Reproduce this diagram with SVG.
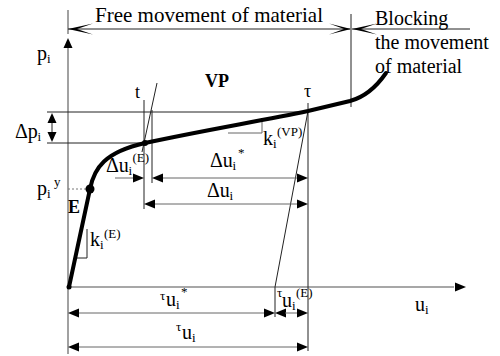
<svg xmlns="http://www.w3.org/2000/svg" width="500" height="356" viewBox="0 0 500 356">
<style>
text{font-family:"Liberation Serif","Times New Roman",serif;fill:#000}
.t20{font-size:20px}
.t18{font-size:18px}
.s{font-size:13px}
.b{font-weight:bold}
.ax{stroke:#8a8a8a;stroke-width:1.6;fill:none}
.ln{stroke:#222;stroke-width:1;fill:none}
.gl{stroke:#666;stroke-width:1;fill:none}
.cv{stroke:#000;stroke-width:4;fill:none;stroke-linecap:round}
.ah{fill:#000}
</style>
<defs>
<path id="aR" d="M0,0 L-11,-4.5 L-11,4.5 Z"/>
<path id="aL" d="M0,0 L11,-4.5 L11,4.5 Z"/>
<path id="aU" d="M0,0 L-4.5,10 L4.5,10 Z"/>
<path id="aD" d="M0,0 L-4.5,-10 L4.5,-10 Z"/>
<path id="dL" d="M0,0 L25,-5.5 L9,0 L25,5.5 Z"/>
<path id="dR" d="M0,0 L-22,-5.5 L-7,0 L-22,5.5 Z"/>
</defs>
<g id="axes">
<line class="ax" x1="68" y1="10" x2="68" y2="34"/>
<line class="ax" x1="68" y1="48" x2="68" y2="354"/>
<use href="#aU" x="68" y="38" class="ah"/>
<line class="ax" x1="68" y1="287" x2="454" y2="287"/>
<use href="#aR" x="466" y="287" class="ah"/>
</g>
<g id="connectors">
<line class="ln" x1="68" y1="29" x2="350" y2="29"/>
<use href="#dL" x="68" y="29" class="ah"/>
<use href="#dR" x="351" y="29" class="ah"/>
<line class="ln" x1="352" y1="29" x2="470" y2="29"/>
<use href="#dL" x="352" y="29" class="ah"/>
<line class="ln" x1="351" y1="14" x2="351" y2="107"/>
<line class="ln" x1="47" y1="112" x2="302" y2="112"/>
<line class="ln" x1="47" y1="143" x2="145" y2="143"/>
<line class="ln" x1="52" y1="118" x2="52" y2="137"/>
<use href="#aU" x="52" y="113" class="ah"/>
<use href="#aD" x="52" y="142" class="ah"/>
<line class="ln" x1="144" y1="100" x2="144" y2="209"/>
<line class="ln" x1="152" y1="110" x2="152" y2="183"/>
<line class="ln" x1="157" y1="83" x2="142" y2="152"/>
<line class="ln" x1="308" y1="103" x2="308" y2="351"/>
<line class="ln" x1="308" y1="111" x2="275" y2="287"/>
<line class="ln" x1="275" y1="287" x2="275" y2="317"/>
<line class="gl" x1="115" y1="178" x2="134" y2="178"/>
<use href="#aR" x="144" y="178" class="ah"/>
<line class="gl" x1="162" y1="178" x2="298" y2="178"/>
<use href="#aL" x="152" y="178" class="ah"/>
<use href="#aR" x="308" y="178" class="ah"/>
<line class="gl" x1="154" y1="204" x2="298" y2="204"/>
<use href="#aL" x="144" y="204" class="ah"/>
<use href="#aR" x="308" y="204" class="ah"/>
<line class="gl" x1="78" y1="313" x2="265" y2="313"/>
<use href="#aL" x="68" y="313" class="ah"/>
<use href="#aR" x="275" y="313" class="ah"/>
<use href="#aL" x="275" y="313" class="ah"/>
<line class="gl" x1="285" y1="313" x2="298" y2="313"/>
<use href="#aR" x="308" y="313" class="ah"/>
<line class="gl" x1="78" y1="347" x2="298" y2="347"/>
<use href="#aL" x="68" y="347" class="ah"/>
<use href="#aR" x="308" y="347" class="ah"/>
<polyline class="gl" points="228,133 262,133 262,121"/>
<polyline class="ln" points="87,229 87,258 75,258"/>
<line x1="68" y1="189" x2="90" y2="189" stroke="#777" stroke-width="1" stroke-dasharray="2,2"/>
</g>
<g id="curve">
<path class="cv" d="M69,287 L90,189 C94,168 105,152 145,143 C200,131 260,121 308,111 L350,101 C365,97 377,86 386,73"/>
<circle cx="69" cy="287" r="2.5"/>
<circle cx="90" cy="189" r="4.5"/>
<circle cx="145" cy="143" r="3"/>
</g>
<g id="labels">
<text class="t20" x="95" y="22" font-size="21" style="font-size:21px">Free movement of material</text>
<text class="t20" x="375" y="25">Blocking</text>
<text class="t20" x="375" y="49">the movement</text>
<text class="t20" x="375" y="73">of material</text>
<text class="t20" x="37" y="60">p</text><text class="s" x="47" y="63">i</text>
<text class="t18 b" x="205" y="87">VP</text>
<text class="t18" x="135" y="98">t</text>
<text class="t18" x="304" y="97">τ</text>
<text class="t20" x="15" y="138">Δp</text><text class="s" x="37.5" y="141">i</text>
<text class="t20" x="37" y="195">p</text><text class="s" x="47" y="198">i</text><text class="s" x="54" y="186">y</text>
<text class="t18 b" x="68" y="213">E</text>
<text class="t20" x="90" y="246">k</text><text class="s" x="100" y="249">i</text><text class="s" x="104" y="238">(E)</text>
<text class="t20" x="106" y="172">Δu</text><text class="s" x="128.5" y="175">i</text><text class="s" x="132.5" y="162">(E)</text>
<text class="t20" x="210" y="167">Δu</text><text class="s" x="232.5" y="170">i</text><text class="s" x="238" y="157">*</text>
<text class="t20" x="207" y="197">Δu</text><text class="s" x="229.5" y="200">i</text>
<text class="t20" x="263" y="145">k</text><text class="s" x="273" y="148">i</text><text class="s" x="277" y="136">(VP)</text>
<text class="s" x="160" y="300">τ</text><text class="t20" x="166" y="306">u</text><text class="s" x="176" y="309">i</text><text class="s" x="181" y="296">*</text>
<text class="s" x="176" y="331">τ</text><text class="t20" x="182" y="339">u</text><text class="s" x="192" y="342">i</text>
<text class="s" x="277" y="297">τ</text><text class="t20" x="282" y="307">u</text><text class="s" x="292" y="310">i</text><text class="s" x="296" y="297">(E)</text>
<text class="t20" x="415" y="311">u</text><text class="s" x="425" y="314">i</text>
</g>
</svg>
